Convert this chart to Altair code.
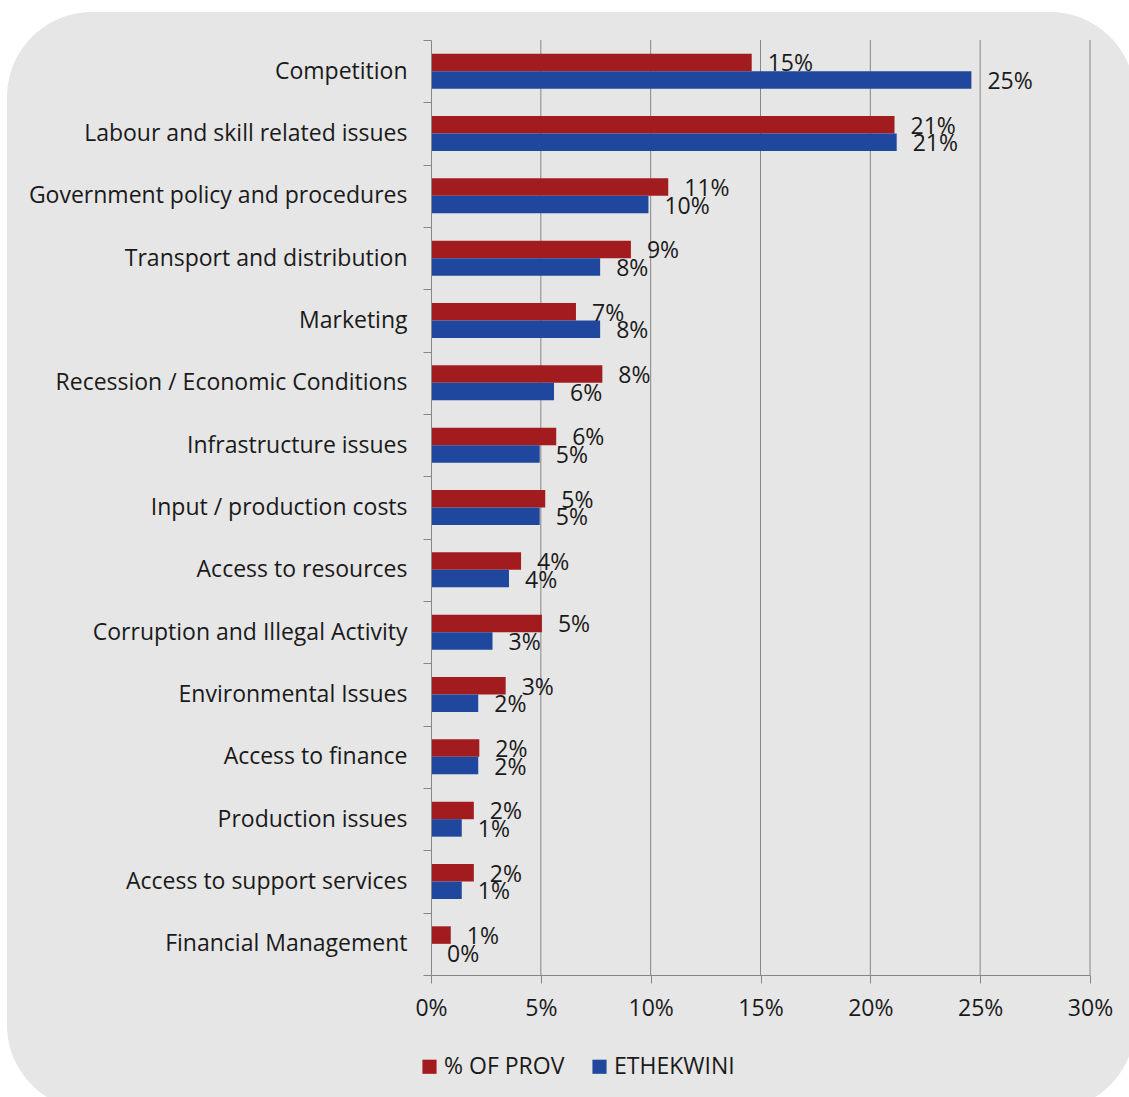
import altair as alt
import pandas as pd

categories = [
    "Competition", "Labour and skill related issues", "Government policy and procedures",
    "Transport and distribution", "Marketing", "Recession / Economic Conditions",
    "Infrastructure issues", "Input / production costs", "Access to resources",
    "Corruption and Illegal Activity", "Environmental Issues", "Access to finance",
    "Production issues", "Access to support services", "Financial Management",
]
prov = [14.6, 21.1, 10.8, 9.1, 6.6, 7.8, 5.7, 5.2, 4.1, 5.05, 3.4, 2.2, 1.95, 1.95, 0.9]
ethekwini = [24.6, 21.2, 9.9, 7.7, 7.7, 5.6, 4.95, 4.95, 3.55, 2.8, 2.15, 2.15, 1.4, 1.4, 0.0]
series = ["% OF PROV", "ETHEKWINI"]
colors = ["#A21C1F", "#1E479D"]
x_ticks = [0, 0.05, 0.10, 0.15, 0.20, 0.25, 0.30]

rows = []
for c, p, e in zip(categories, prov, ethekwini):
    rows.append({"cat": c, "series": series[0], "value": p / 100})
    rows.append({"cat": c, "series": series[1], "value": e / 100})
df = pd.DataFrame(rows)

FONT = "Open Sans"
FS = 23
GRID = "#868686"
TXT = "#1a1a1a"

bg = alt.Chart(pd.DataFrame({"a": [0]})).mark_rect(
    color="#e6e6e6", cornerRadius=85
).encode(
    x=alt.value(-424), x2=alt.value(704), y=alt.value(-28), y2=alt.value(1070)
)

x_scale = alt.Scale(domain=[0, 0.30], nice=False)

grid = alt.Chart(pd.DataFrame({"t": x_ticks[1:]})).mark_rule(
    color=GRID, strokeWidth=1
).encode(
    x=alt.X("t:Q", scale=x_scale), y=alt.value(0), y2=alt.value(935)
)

y_enc = alt.Y(
    "cat:N", sort=categories, title=None,
    scale=alt.Scale(paddingInner=0, paddingOuter=0),
    axis=alt.Axis(tickBand="extent", tickSize=8, labelPadding=16, labelFontSize=FS,
                  labelFont=FONT, labelColor=TXT, domainColor=GRID,
                  tickColor=GRID, grid=False, labelLimit=500, zindex=1),
)
yoff = alt.YOffset("series:N", sort=series,
                   scale=alt.Scale(paddingInner=0, paddingOuter=0.78))
x_enc = alt.X(
    "value:Q", title=None,
    scale=x_scale,
    axis=alt.Axis(format=".0%", values=x_ticks, labelFlush=False,
                  grid=False, domainColor=GRID,
                  tickColor=GRID, tickSize=8, labelPadding=14,
                  labelFontSize=FS, labelFont=FONT, labelColor=TXT, zindex=1),
)

bars = alt.Chart(df).mark_bar().encode(
    x=x_enc, y=y_enc, yOffset=yoff,
    color=alt.Color(
        "series:N", sort=series,
        scale=alt.Scale(domain=series, range=colors),
        legend=alt.Legend(
            title=None, orient="none", direction="horizontal",
            legendX=-13, legendY=1075 - 40 - 20,
            symbolType="square", symbolSize=200, symbolStrokeWidth=0,
            labelFontSize=FS, labelFont=FONT, labelColor=TXT,
            labelOffset=3, columnPadding=23,
        ),
    ),
)

labels = alt.Chart(df).mark_text(
    align="left", baseline="middle", dx=16, dy=2, fontSize=FS, font=FONT, color=TXT
).encode(
    x="value:Q", y=alt.Y("cat:N", sort=categories), yOffset=alt.YOffset("series:N", sort=series),
    text=alt.Text("value:Q", format=".0%"),
)

chart = alt.layer(bg, grid, bars, labels).properties(
    width=659, height=935,
    autosize=alt.AutoSizeParams(type="none"),
    padding={"left": 431, "top": 40, "right": 39, "bottom": 122},
    background="white",
).configure_view(stroke=None)

chart.save("out.html", embed_options={"renderer": "svg", "actions": False})
